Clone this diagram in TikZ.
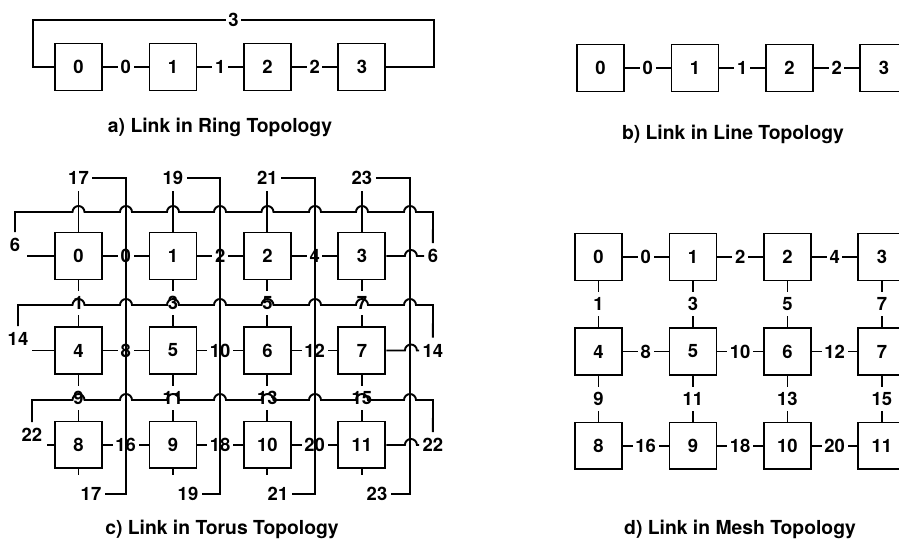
\documentclass[tikz,border=0pt]{standalone}
\usepackage{fontspec}
\setmainfont{TeX Gyre Heros}
\usepackage{tikz}

\begin{document}
\begin{tikzpicture}[x=0.02cm, y=-0.02cm, node distance=1.89cm, line width=1.1pt,
    box/.style={draw, minimum size=0.94cm, inner sep=0pt, font=\fontsize{10.5}{12}\selectfont\bfseries},
    lbl/.style={fill=white, inner xsep=1.5pt, inner ysep=3pt, font=\fontsize{10.5}{12}\selectfont\bfseries},
    caption/.style={font=\fontsize{11}{13}\selectfont\bfseries}]
        \useasboundingbox (0,0) rectangle (899,541);
        \clip (0,0) rectangle (899,541);

        % Anillo
        \node[box] (R0) at (78.5,67) {0};
        \node[box, right of=R0] (R1) {1};
        \node[box, right of=R1] (R2) {2};
        \node[box, right of=R2] (R3) {3};
        \draw (R0) -- node[lbl] {0} (R1);
        \draw (R1) -- node[lbl] {1} (R2);
        \draw (R2) -- node[lbl] {2} (R3);
        \draw (R3.east) -- ++(47.5,0) -- ++(0,-47) -- node[lbl] {3} ++(-401,0) -- ++(0,47) -- (R0.west);
        \node[caption] (capA) at (220,127) {a) Link in Ring Topology};

        % Linea
        \node[box] (L0) at (600.5,68) {0};
        \node[box, right of=L0] (L1) {1};
        \node[box, right of=L1] (L2) {2};
        \node[box, right of=L2] (L3) {3};
        \draw (L0) -- node[lbl] {0} (L1);
        \draw (L1) -- node[lbl] {1} (L2);
        \draw (L2) -- node[lbl] {2} (L3);
        \node[caption] (capB) at (733,134) {b) Link in Line Topology};

        % Toro: nodos
        \node[box] (T0) at (78.5,256) {0};
        \node[box, right of=T0] (T1) {1};
        \node[box, right of=T1] (T2) {2};
        \node[box, right of=T2] (T3) {3};
        \node[box, below of=T0] (T4) {4};
        \node[box, right of=T4] (T5) {5};
        \node[box, right of=T5] (T6) {6};
        \node[box, right of=T6] (T7) {7};
        \node[box, below of=T4] (T8) {8};
        \node[box, right of=T8] (T9) {9};
        \node[box, right of=T9] (T10) {10};
        \node[box, right of=T10] (T11) {11};

        % Toro: extremos
        \node[lbl, above of=T0, node distance=1.56cm] (a17) {17};
        \node[lbl, above of=T1, node distance=1.56cm] (a19) {19};
        \node[lbl, above of=T2, node distance=1.56cm] (a21) {21};
        \node[lbl, above of=T3, node distance=1.56cm] (a23) {23};
        \node[lbl] (b17) at (91,494) {17};
        \node[lbl] (b19) at (188,494) {19};
        \node[lbl] (b21) at (278,494) {21};
        \node[lbl] (b23) at (377,494) {23};
        \coordinate (k17) at (126,494);
        \coordinate (k19) at (220,494);
        \coordinate (k21) at (315,494);
        \coordinate (k23) at (410,494);
        \node[lbl] (w6) at (15,245) {6};
        \node[lbl] (w14) at (18,339) {14};
        \node[lbl] (w22) at (32,435) {22};
        \node[lbl, right of=T3, node distance=1.42cm] (e6) {6};
        \node[lbl, right of=T7, node distance=1.42cm] (e14) {14};
        \node[lbl, right of=T11, node distance=1.42cm] (e22) {22};

        % Toro: enlaces horizontales
        \draw (T0.west) -- ++(-27,0);
        \draw (T0) -- node[lbl] {0} (T1);
        \draw (T1) -- node[lbl] {2} (T2);
        \draw (T2) -- node[lbl] {4} (T3);
        \draw (T4.west) -- ++(-22,0);
        \draw (T4) -- node[lbl] {8} (T5);
        \draw (T5) -- node[lbl] {10} (T6);
        \draw (T6) -- node[lbl] {12} (T7);
        \draw (T8.west) -- ++(-7,0);
        \draw (T8) -- node[lbl] {16} (T9);
        \draw (T9) -- node[lbl] {18} (T10);
        \draw (T10) -- node[lbl] {20} (T11);

        % Toro: enlaces verticales
        \draw (T0) -- node[lbl] {1} (T4);
        \draw (T1) -- node[lbl] {3} (T5);
        \draw (T2) -- node[lbl] {5} (T6);
        \draw (T3) -- node[lbl] {7} (T7);
        \draw (T4) -- node[lbl] {9} (T8);
        \draw (T5) -- node[lbl] {11} (T9);
        \draw (T6) -- node[lbl] {13} (T10);
        \draw (T7) -- node[lbl] {15} (T11);
        \draw (T0) -- (a17);
        \draw (T1) -- (a19);
        \draw (T2) -- (a21);
        \draw (T3) -- (a23);
        \draw (T8.south) -- ++(0,6);
        \draw (T9.south) -- ++(0,6);
        \draw (T10.south) -- ++(0,6);
        \draw (T11.south) -- ++(0,6);

        % Toro: vueltas
        \draw (a17) -| (k17) -- (b17);
        \draw (a19) -| (k19) -- (b19);
        \draw (a21) -| (k21) -- (b21);
        \draw (a23) -| (k23) -- (b23);
        \draw (T3.east) -- ++(18.5,0) arc[start angle=180, end angle=0, radius=0.12cm] -- (e6);
        \draw (T7.east) -- ++(18.5,0) arc[start angle=180, end angle=0, radius=0.12cm] -- (e14);
        \draw (T11.east) -- ++(18.5,0) arc[start angle=180, end angle=0, radius=0.12cm] -- (e22);
        \draw (w6.north) -- (15,212)
            \foreach \x in {78.5,126,173,220,267.5,315,362,410} {-- (\x-6,212) arc[start angle=180, end angle=0, radius=0.12cm]}
            -- (433,212) -- (e6.north);
        \draw (w14.north) -- (18,305)
            \foreach \x in {78.5,126,173,220,267.5,315,362,410} {-- (\x-6,305) arc[start angle=180, end angle=0, radius=0.12cm]}
            -- (433,305) -- (e14.north);
        \draw (w22.north) -- (32,400)
            \foreach \x in {78.5,126,173,220,267.5,315,362,410} {-- (\x-6,400) arc[start angle=180, end angle=0, radius=0.12cm]}
            -- (433,400) -- (e22.north);
        \node[caption] (capC) at (222,529) {c) Link in Torus Topology};

        % Malla
        \node[box] (M0) at (598.5,257) {0};
        \node[box, right of=M0] (M1) {1};
        \node[box, right of=M1] (M2) {2};
        \node[box, right of=M2] (M3) {3};
        \node[box, below of=M0] (M4) {4};
        \node[box, right of=M4] (M5) {5};
        \node[box, right of=M5] (M6) {6};
        \node[box, right of=M6] (M7) {7};
        \node[box, below of=M4] (M8) {8};
        \node[box, right of=M8] (M9) {9};
        \node[box, right of=M9] (M10) {10};
        \node[box, right of=M10] (M11) {11};
        \draw (M0) -- node[lbl] {0} (M1);
        \draw (M1) -- node[lbl] {2} (M2);
        \draw (M2) -- node[lbl] {4} (M3);
        \draw (M4) -- node[lbl] {8} (M5);
        \draw (M5) -- node[lbl] {10} (M6);
        \draw (M6) -- node[lbl] {12} (M7);
        \draw (M8) -- node[lbl] {16} (M9);
        \draw (M9) -- node[lbl] {18} (M10);
        \draw (M10) -- node[lbl] {20} (M11);
        \draw (M0) -- node[lbl] {1} (M4);
        \draw (M1) -- node[lbl] {3} (M5);
        \draw (M2) -- node[lbl] {5} (M6);
        \draw (M3) -- node[lbl] {7} (M7);
        \draw (M4) -- node[lbl] {9} (M8);
        \draw (M5) -- node[lbl] {11} (M9);
        \draw (M6) -- node[lbl] {13} (M10);
        \draw (M7) -- node[lbl] {15} (M11);
        \node[caption] (capD) at (740,529) {d) Link in Mesh Topology};
    \end{tikzpicture}
\end{document}
